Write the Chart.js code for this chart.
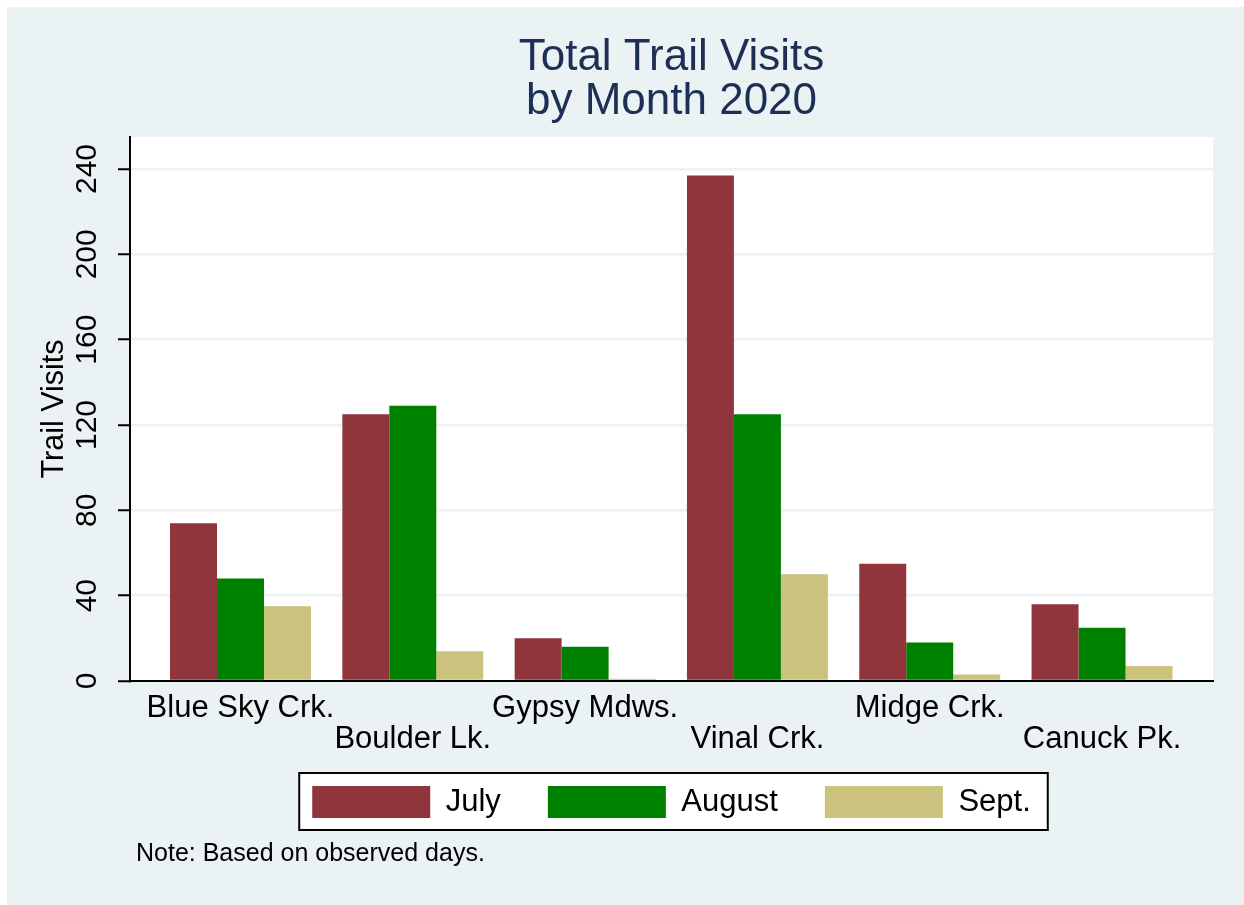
<!DOCTYPE html>
<html><head><meta charset="utf-8">
<script src="https://cdn.jsdelivr.net/npm/chart.js@4.4.1/dist/chart.umd.min.js"></script>
<style>
html,body{margin:0;padding:0;background:#fff;width:1244px;height:905px;overflow:hidden}
#panel{position:absolute;left:7px;top:7px;width:1237px;height:898px;background:#EAF2F3}
#wrap{position:absolute;left:0;top:0;width:1244px;height:905px}
</style></head><body>
<div id="panel"></div>
<div id="wrap"><canvas id="c" width="1244" height="905"></canvas></div>
<script>
const categories = ['Blue Sky Crk.', 'Boulder Lk.', 'Gypsy Mdws.', 'Vinal Crk.', 'Midge Crk.', 'Canuck Pk.'];
const seriesNames = ['July', 'August', 'Sept.'];
const july = [74, 125, 20, 237, 55, 36];
const august = [48, 129, 16, 125, 18, 25];
const sept = [35, 14, 1, 50, 3, 7];
const yTicks = [0, 40, 80, 120, 160, 200, 240];
const titleLines = ['Total Trail Visits', 'by Month 2020'];
const yTitle = 'Trail Visits';
const note = 'Note: Based on observed days.';

const FAM = '"Liberation Sans", Arial, Helvetica, sans-serif';
const colors = ['#90353B', '#008000', '#CBC27E'];
const seriesData = [july, august, sept];

const framePlugin = {
  id: 'frame',
  afterLayout(chart) {
    const lg = chart.legend;
    if (lg) {
      const d = lg.top - (786 - lg.options.labels.padding);
      lg.top -= d; lg.bottom -= d;
    }
    chart.boxes.forEach(b => {
      if (b.options && b.options.text === note) {
        const d = b.top - 839.3;
        b.top -= d; b.bottom -= d;
        b.left += 6; b.right += 6;
      }
    });
  },
  beforeDraw(chart) {
    const {ctx, chartArea: a} = chart;
    ctx.save();
    ctx.fillStyle = '#FFFFFF';
    ctx.fillRect(a.left, a.top, a.right - a.left, a.bottom - a.top);
    const lg = chart.legend;
    if (lg && lg.lineWidths) {
      const pad = lg.options.labels.padding;
      const lw = lg.lineWidths[0];
      const x0 = (lg.left + pad + lg.right - lw) / 2;
      const x1 = x0 + lw - pad;
      const y0 = lg.top + pad;
      const bh = lg.options.labels.boxHeight;
      const L = x0 - 13, T = y0 - 13, R = x1 + 17, B = y0 + bh + 12;
      ctx.fillRect(L, T, R - L, B - T);
      ctx.lineWidth = 2;
      ctx.strokeStyle = '#000';
      ctx.strokeRect(L, T, R - L, B - T);
    }
    ctx.restore();
  }
};

new Chart(document.getElementById('c'), {
  type: 'bar',
  data: {
    datasets: seriesNames.map((name, k) => ({
      label: name,
      data: seriesData[k].map((v, i) => ({x: i, y: v})),
      backgroundColor: colors[k],
      borderWidth: 0,
      categoryPercentage: 0.818,
      barPercentage: 1.0
    }))
  },
  options: {
    responsive: false,
    animation: false,
    devicePixelRatio: 1,
    layout: {padding: {left: 0, top: 0, right: 31, bottom: 0}},
    scales: {
      x: {
        type: 'linear',
        min: -0.6413,
        max: 5.644,
        offset: false,
        afterBuildTicks: (axis) => { axis.ticks = categories.map((c, i) => ({value: i})); },
        afterFit: (axis) => { axis.height = 74; },
        grid: {display: true, drawOnChartArea: false, drawTicks: false},
        border: {display: true, color: '#000', width: 2},
        ticks: {
          autoSkip: false, maxRotation: 0, minRotation: 0, padding: 12.6, color: '#000',
          font: {family: FAM, size: 31, lineHeight: '30.6px'},
          callback: (v) => {
            const i = Math.round(v);
            if (i < 0 || i >= categories.length) return '';
            return i % 2 === 0 ? [categories[i], ''] : ['', categories[i]];
          }
        }
      },
      y: {
        type: 'linear',
        min: 0,
        max: 255,
        afterBuildTicks: (axis) => { axis.ticks = yTicks.map(v => ({value: v})); },
        afterFit: (axis) => { axis.width = 130; },
        grid: {color: '#EAF2F3', lineWidth: 2.5, drawTicks: true, tickLength: 12, tickColor: '#000', tickWidth: 2},
        border: {display: true, color: '#000', width: 2},
        ticks: {
          minRotation: 90, maxRotation: 90, crossAlign: 'center', padding: 5.5, color: '#000',
          autoSkip: false,
          font: {family: FAM, size: 30}
        },
        title: {
          display: true, text: yTitle, color: '#000',
          font: {family: FAM, size: 30.5, lineHeight: 1.0},
          padding: {top: 39, bottom: 0}
        }
      }
    },
    plugins: {
      tooltip: {enabled: false},
      title: {
        display: true, text: titleLines, color: '#1E2F56', fullSize: false,
        font: {family: FAM, size: 44, lineHeight: 1.0, weight: 'normal'},
        padding: {top: 35.5, bottom: 13.5}
      },
      subtitle: {
        display: true, text: note, position: 'bottom', align: 'start', color: '#000', fullSize: false,
        font: {family: FAM, size: 25, lineHeight: 1.2, weight: 'normal'},
        padding: {top: 0, bottom: 31}
      },
      legend: {
        position: 'bottom', fullSize: false,
        labels: {boxWidth: 118, boxHeight: 32, padding: 47, color: '#000', font: {family: FAM, size: 31}}
      }
    }
  },
  plugins: [framePlugin]
});
</script>
</body></html>
